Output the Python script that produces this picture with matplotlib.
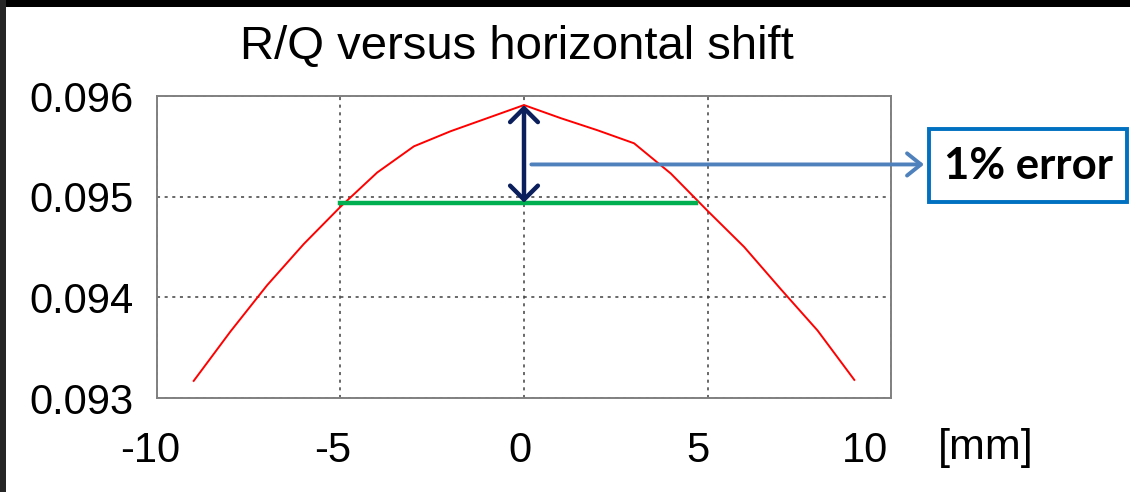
import numpy as np
import matplotlib
matplotlib.use("Agg")
import matplotlib.pyplot as plt
from matplotlib.patches import Rectangle
from matplotlib.transforms import ScaledTranslation

plt.rcParams['font.family'] = ['Liberation Sans', 'DejaVu Sans']

# R/Q vs horizontal shift
shift_mm = [-9, -8, -7, -6, -5, -4, -3, -2, -1, 0, 1, 2, 3, 4, 5, 6, 7, 8, 9]
r_over_q = [0.09317, 0.09366, 0.09412, 0.09453, 0.09490, 0.09524, 0.09550,
            0.09565, 0.09578, 0.09591, 0.09578, 0.09566, 0.09553, 0.09523,
            0.09486, 0.09450, 0.09408, 0.09367, 0.09318]

x_ticks = [-10, -5, 0, 5, 10]
y_ticks = [0.093, 0.094, 0.095, 0.096]

# 1% band and annotation values
limit_level = 0.09494
limit_x = [-5.0, 4.7]
peak_level = 0.09591
pointer_level = 0.09532

W, H = 1130, 492
fig = plt.figure(figsize=(W / 100, H / 100), dpi=100)
fig.patch.set_facecolor('white')

ax = fig.add_axes([157 / W, 1 - 398 / H, (891 - 157) / W, (398 - 96) / H])
ax.set_xlim(-10, 10)
ax.set_ylim(0.093, 0.096)

ax.plot(shift_mm, r_over_q, color='red', lw=1.4, zorder=3)
ax.plot(limit_x, [limit_level, limit_level], color='#00B050', lw=3.2, zorder=4)

# double arrow for the 1% drop
ax.annotate('', xy=(0, limit_level), xytext=(0, peak_level),
            arrowprops=dict(arrowstyle='<->,head_length=0.5,head_width=0.5',
                            color='#0B1F5C', lw=3.2, shrinkA=0, shrinkB=0,
                            mutation_scale=20), zorder=5)

# pointer to the label box
ax.annotate('', xy=(10.9, pointer_level), xytext=(0.2, pointer_level),
            annotation_clip=False,
            arrowprops=dict(arrowstyle='->,head_length=0.5,head_width=0.4',
                            color='#4F81BD', lw=2.8, shrinkA=0, shrinkB=0,
                            mutation_scale=20), zorder=5)

ax.set_xticks(x_ticks)
ax.set_yticks(y_ticks)
ax.set_xticklabels([str(t) for t in x_ticks])
ax.set_yticklabels([f'{t:.3f}' for t in y_ticks])
ax.tick_params(axis='both', length=0, labelsize=30)
ax.tick_params(axis='y', pad=17)
ax.tick_params(axis='x', pad=24)
ax.grid(True, color='#404040', linestyle=(0, (2, 3)), lw=1.1)
for s in ax.spines.values():
    s.set_color('#808080')
    s.set_linewidth(1.4)

# the x labels sit a little left of their grid lines in the original
for lab, dx in zip(ax.get_xticklabels(), [-7, -8, -4, -10, -26]):
    lab.set_transform(lab.get_transform() + ScaledTranslation(dx / 100, 0, fig.dpi_scale_trans))

fig.text(517 / W, 1 - 47 / H, 'R/Q versus horizontal shift', fontsize=34,
         ha='center', va='center')
fig.text(986 / W, 1 - 448 / H, '[mm]', fontsize=31, ha='center', va='center')

# label box
fig.patches.append(Rectangle((929 / W, 1 - 202 / H), (1127 - 929) / W, (202 - 129) / H,
                             transform=fig.transFigure, fill=False,
                             edgecolor='#0070C0', lw=2.8))
fig.text(1028 / W, 1 - 166 / H, '1% error', fontsize=31.5, fontweight='bold',
         family=['Lato', 'DejaVu Sans'], ha='center', va='center')

# dark slide edges
fig.patches.append(Rectangle((0, 1 - 7 / H), 1, 7 / H, transform=fig.transFigure,
                             facecolor='black', edgecolor='none'))
fig.patches.append(Rectangle((0, 0), 6 / W, 1, transform=fig.transFigure,
                             facecolor='#262626', edgecolor='none'))

fig.savefig('out.png', dpi=100)
